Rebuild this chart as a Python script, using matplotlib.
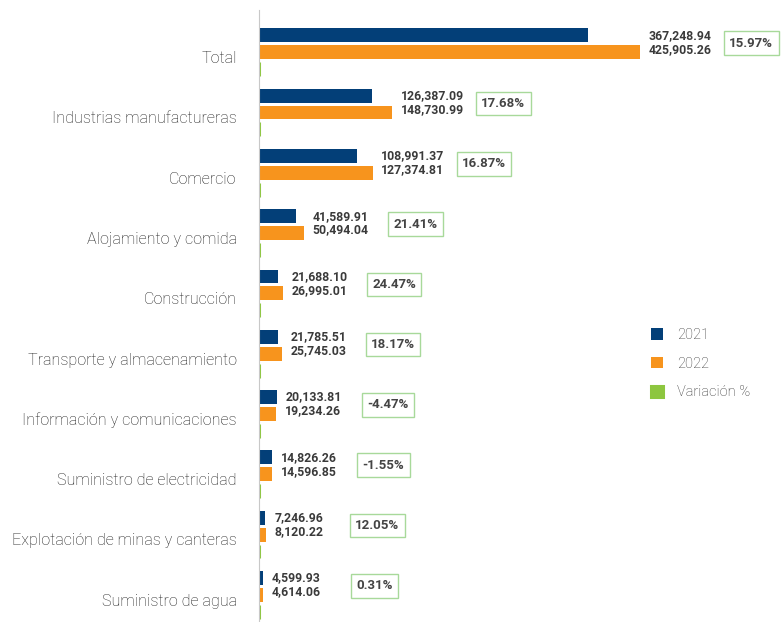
import numpy as np
import matplotlib.pyplot as plt

# datos
sectores = ['Total', 'Industrias manufactureras', 'Comercio', 'Alojamiento y comida',
            'Construcción', 'Transporte y almacenamiento', 'Información y comunicaciones',
            'Suministro de electricidad', 'Explotación de minas y canteras', 'Suministro de agua']
v2021 = [367248.94, 126387.09, 108991.37, 41589.91, 21688.10, 21785.51, 20133.81,
         14826.26, 7246.96, 4599.93]
v2022 = [425905.26, 148730.99, 127374.81, 50494.04, 26995.01, 25745.03, 19234.26,
         14596.85, 8120.22, 4614.06]
variacion = [15.97, 17.68, 16.87, 21.41, 24.47, 18.17, -4.47, -1.55, 12.05, 0.31]

c21 = '#033f78'
c22 = '#f7941d'
cvar = '#8dc63f'
ctxt = '#3a3a3a'

plt.rcParams['font.family'] = ['Roboto', 'DejaVu Sans']

fig = plt.figure(figsize=(7.83, 6.22), dpi=100)
ax = fig.add_axes([259 / 783, 0, 520 / 783, 612 / 622])

y = np.arange(len(sectores))
h = 0.23
d = 0.28
ax.barh(y - d, v2021, height=h, color=c21, label='2021')
ax.barh(y, v2022, height=h, color=c22, label='2022')
ax.barh(y + d, variacion, height=h, color=cvar, edgecolor=cvar, linewidth=2.2,
        label='Variación %')

# etiquetas de valores
for i in range(len(sectores)):
    xm = max(v2021[i], v2022[i])
    ax.annotate(f'{v2021[i]:,.2f}', (xm, y[i] - d), xytext=(6, 0),
                textcoords='offset points', va='center', ha='left',
                fontsize=8.8, fontweight='bold', color=ctxt)
    ax.annotate(f'{v2022[i]:,.2f}', (xm, y[i] - 0.05), xytext=(6, 0),
                textcoords='offset points', va='center', ha='left',
                fontsize=8.8, fontweight='bold', color=ctxt)
    ax.annotate(f'{variacion[i]:.2f}%', (xm, y[i] - 0.15), xytext=(80, 0),
                textcoords='offset points', va='center', ha='center',
                fontsize=9.5, fontweight='bold', color='#444444',
                bbox=dict(boxstyle='square,pad=0.4', fc='white', ec='#a8d99a', lw=1))

ax.set_yticks(y + 0.08)
ax.set_yticklabels(sectores, fontsize=11.6, color='#1e1e1e', fontweight='light')
ax.tick_params(axis='y', length=0, pad=16)
ax.set_xticks([])
ax.set_xlim(0, 581000)
ax.set_ylim(9.45, -0.70)
for s in ['top', 'right', 'bottom']:
    ax.spines[s].set_visible(False)
ax.spines['left'].set_color('#c8c8c8')

fig.legend(loc='upper left', bbox_to_anchor=(638 / 783, 1 - 315 / 622), frameon=False,
           handlelength=0.8, handleheight=0.8, labelspacing=1.0,
           handletextpad=1.0, labelcolor='#333333',
           prop={'family': 'Roboto', 'size': 10.5, 'weight': 'light'})

fig.savefig('out.png', dpi=100)
